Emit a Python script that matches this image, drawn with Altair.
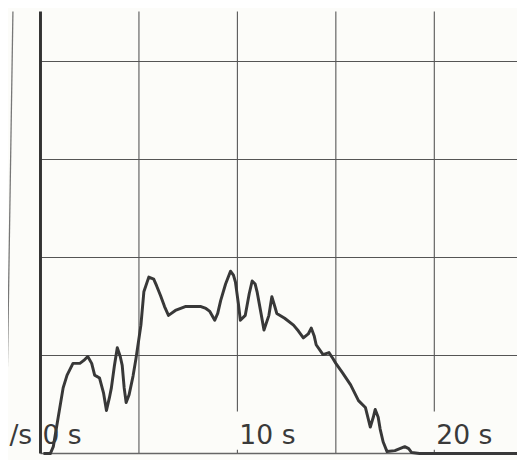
import altair as alt
import pandas as pd

# trace (time in s, value in grid units)
time_s = [0.15, 0.5, 0.65, 0.9, 1.15, 1.35, 1.65, 2.0, 2.2, 2.4, 2.6, 2.75, 3.0, 3.2, 3.35, 3.5,
          3.6, 3.75, 3.9, 4.05, 4.15, 4.25, 4.35, 4.5, 4.7, 4.85, 5.1, 5.25, 5.5, 5.75, 5.9,
          6.1, 6.3, 6.5, 6.85, 7.35, 7.75, 8.15, 8.4, 8.6, 8.85, 9.0, 9.15, 9.4, 9.65, 9.8,
          9.9, 10.05, 10.15, 10.4, 10.6, 10.75, 10.9, 11.0, 11.2, 11.35, 11.6, 11.75, 11.9,
          12.0, 12.4, 12.85, 13.1, 13.35, 13.6, 13.75, 13.9, 14.0, 14.35, 14.65, 14.85, 15.0,
          15.35, 15.75, 16.15, 16.5, 16.75, 16.9, 17.0, 17.15, 17.25, 17.4, 17.6, 18.0, 18.25,
          18.5, 18.7, 18.85, 19.25, 19.65, 21.0, 23.0, 24.2]
value = [0.0, 0.0, 0.07, 0.37, 0.67, 0.80, 0.92, 0.92, 0.95, 0.99, 0.92, 0.80, 0.77, 0.62, 0.44, 0.57,
         0.67, 0.89, 1.08, 0.99, 0.90, 0.67, 0.52, 0.60, 0.79, 0.97, 1.31, 1.65, 1.80, 1.78, 1.71,
         1.61, 1.50, 1.41, 1.46, 1.50, 1.50, 1.50, 1.48, 1.45, 1.36, 1.43, 1.56, 1.73, 1.86, 1.82,
         1.75, 1.53, 1.36, 1.41, 1.63, 1.76, 1.73, 1.65, 1.43, 1.26, 1.41, 1.60, 1.50,
         1.43, 1.38, 1.31, 1.25, 1.18, 1.22, 1.28, 1.20, 1.11, 1.01, 1.03, 0.97, 0.92,
         0.82, 0.70, 0.54, 0.47, 0.27, 0.37, 0.45, 0.37, 0.25, 0.12, 0.02, 0.03, 0.05,
         0.07, 0.05, 0.01, 0.0, 0.0, 0.0, 0.0, 0.0]

grid_x_full = [5, 15]
grid_x_cut = [10, 20]
grid_y = [1, 2, 3, 4]
tick_pos = [0, 10, 20]
tick_labels = ["0 s", "10 s", "20 s"]
unit_label = "/s"

X_MAX = 24.2
Y_MAX = 4.51
LABEL_TOP = 0.43

xs = alt.Scale(domain=[0, X_MAX], nice=False, zero=False)
ys = alt.Scale(domain=[0, Y_MAX], nice=False, zero=False)

curve = pd.DataFrame({"t": time_s, "v": value})

vgrid = pd.DataFrame({
    "x": grid_x_full + grid_x_cut,
    "y0": [0] * len(grid_x_full) + [LABEL_TOP] * len(grid_x_cut),
    "y1": [Y_MAX] * (len(grid_x_full) + len(grid_x_cut)),
})
ticks = pd.DataFrame({"x": grid_x_cut, "y0": [0] * len(grid_x_cut), "y1": [0.04] * len(grid_x_cut)})
hgrid = pd.DataFrame({"y": grid_y, "x0": [0] * len(grid_y), "x1": [X_MAX] * len(grid_y)})
labels = pd.DataFrame({"x": tick_pos, "y": [0.1] * len(tick_pos), "label": tick_labels})

vg = alt.Chart(vgrid).mark_rule(color="#555555", strokeWidth=1.1).encode(
    x=alt.X("x:Q", scale=xs, axis=None),
    y=alt.Y("y0:Q", scale=ys, axis=None),
    y2="y1:Q",
)
tk = alt.Chart(ticks).mark_rule(color="#555555", strokeWidth=1.1).encode(
    x=alt.X("x:Q", scale=xs, axis=None),
    y=alt.Y("y0:Q", scale=ys, axis=None),
    y2="y1:Q",
)
hg = alt.Chart(hgrid).mark_rule(color="#555555", strokeWidth=1.1).encode(
    y=alt.Y("y:Q", scale=ys, axis=None),
    x=alt.X("x0:Q", scale=xs, axis=None),
    x2="x1:Q",
)
bottom = alt.Chart(pd.DataFrame({"y": [0], "x0": [0], "x1": [X_MAX]})).mark_rule(
    color="#666666", strokeWidth=1.5
).encode(
    y=alt.Y("y:Q", scale=ys, axis=None),
    x=alt.X("x0:Q", scale=xs, axis=None),
    x2="x1:Q",
)
yaxis = alt.Chart(pd.DataFrame({"x": [0], "y0": [0], "y1": [Y_MAX]})).mark_rule(
    color="#333333", strokeWidth=3
).encode(
    x=alt.X("x:Q", scale=xs, axis=None),
    y=alt.Y("y0:Q", scale=ys, axis=None),
    y2="y1:Q",
)
edge = alt.Chart(pd.DataFrame({"x0": [-1.4], "x1": [-1.75], "y0": [Y_MAX], "y1": [0]})).mark_rule(
    color="#777777", strokeWidth=1.3, clip=False
).encode(
    x=alt.X("x0:Q", scale=xs, axis=None),
    x2="x1:Q",
    y=alt.Y("y0:Q", scale=ys, axis=None),
    y2="y1:Q",
)
line = alt.Chart(curve).mark_line(color="#383838", strokeWidth=3, strokeJoin="round").encode(
    x=alt.X("t:Q", scale=xs, axis=None),
    y=alt.Y("v:Q", scale=ys, axis=None),
)
txt = alt.Chart(labels).mark_text(
    align="left", baseline="alphabetic", dx=2, fontSize=27, font="DejaVu Sans", color="#3a3a3a"
).encode(
    x=alt.X("x:Q", scale=xs, axis=None),
    y=alt.Y("y:Q", scale=ys, axis=None),
    text="label:N",
)
unit = alt.Chart(pd.DataFrame({"x": [-0.42], "y": [0.1], "label": [unit_label]})).mark_text(
    align="right", baseline="alphabetic", fontSize=27, font="DejaVu Sans", color="#3a3a3a"
).encode(
    x=alt.X("x:Q", scale=xs, axis=None),
    y=alt.Y("y:Q", scale=ys, axis=None),
    text="label:N",
)

chart = alt.layer(vg, tk, hg, bottom, line, txt, unit, edge, yaxis).properties(
    width=484,
    height=449,
    autosize=alt.AutoSizeParams(type="none"),
    padding={"left": 33, "top": 0, "right": 0, "bottom": 3},
    background="#fcfcf9",
).configure_view(stroke=None)

chart.save("out.html", embed_options={"renderer": "svg", "actions": False})
